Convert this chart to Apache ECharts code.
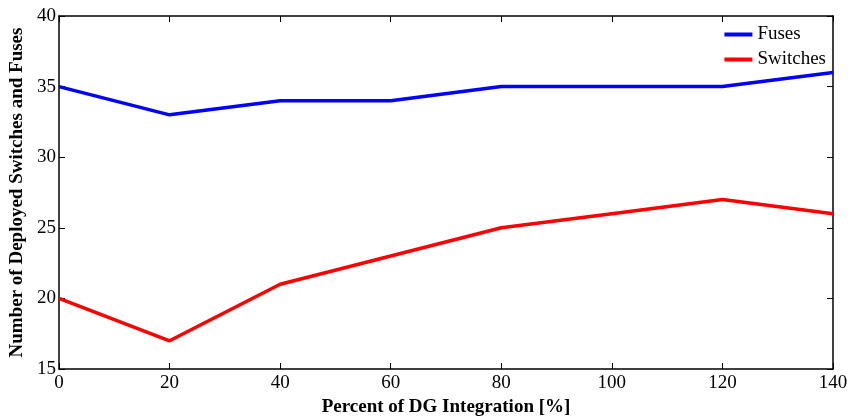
<!DOCTYPE html>
<html lang="en">
<head>
  <meta charset="UTF-8">
  <title>DG Integration</title>
  <style>
    html, body{margin: 0; padding: 0; background: #fff}
    #chart{width: 848px; height: 416px}
  </style>
  <script src="https://cdn.jsdelivr.net/npm/echarts@6/dist/echarts.min.js"></script>
</head>
<body>
  <div id="chart"></div>
  <script>
    const dgPercent = [0, 20, 40, 60, 80, 100, 120, 140];
    const fuses = [35, 33, 34, 34, 35, 35, 35, 36];
    const switches = [20, 17, 21, 23, 25, 26, 27, 26];

    const font = 'Liberation Serif';
    const toPairs = ys => dgPercent.map((x, i) => [x, ys[i]]);

    const baseX = {
      type: 'value', min: 0, max: 140, interval: 20,
      axisLine: {show: true, onZero: false, lineStyle: {color: '#000', width: 1.5}},
      axisTick: {inside: true, length: 6, lineStyle: {color: '#000'}},
      splitLine: {show: false}
    };
    const baseY = {
      type: 'value', min: 15, max: 40, interval: 5,
      axisLine: {show: true, onZero: false, lineStyle: {color: '#000', width: 1.5}},
      axisTick: {inside: true, length: 6, lineStyle: {color: '#000'}},
      splitLine: {show: false}
    };

    let chart = echarts.init(document.getElementById('chart'));
    chart.setOption({
      animation: false,
      textStyle: {fontFamily: font},
      grid: {left: 59, right: 15, top: 16, bottom: 47, outerBoundsMode: 'none', containLabel: false},
      legend: {
        orient: 'vertical', right: 17, top: 20,
        itemWidth: 28, itemHeight: 4, itemGap: 6,
        icon: 'rect',
        textStyle: {fontFamily: font, fontSize: 19, color: '#000'},
        data: ['Fuses', 'Switches']
      },
      xAxis: [
        Object.assign({}, baseX, {
          position: 'bottom',
          name: 'Percent of DG Integration [%]',
          nameLocation: 'middle', nameGap: 24,
          nameTextStyle: {fontFamily: font, fontSize: 19, fontWeight: 'bold', color: '#000'},
          axisLabel: {fontFamily: font, fontSize: 19, color: '#000', margin: 5}
        }),
        Object.assign({}, baseX, {position: 'top', axisLabel: {show: false}})
      ],
      yAxis: [
        Object.assign({}, baseY, {
          position: 'left',
          name: 'Number of Deployed Switches and Fuses',
          nameLocation: 'middle', nameGap: 31,
          nameTextStyle: {fontFamily: font, fontSize: 19, fontWeight: 'bold', color: '#000'},
          axisLabel: {fontFamily: font, fontSize: 19, color: '#000', margin: 3}
        }),
        Object.assign({}, baseY, {position: 'right', axisLabel: {show: false}})
      ],
      series: [
        {
          name: 'Fuses', type: 'line', data: toPairs(fuses),
          showSymbol: false, color: '#0000ff',
          lineStyle: {width: 3.5}
        },
        {
          name: 'Switches', type: 'line', data: toPairs(switches),
          showSymbol: false, color: '#ff0000',
          lineStyle: {width: 3.5}
        }
      ]
    });
  </script>
</body>
</html>
